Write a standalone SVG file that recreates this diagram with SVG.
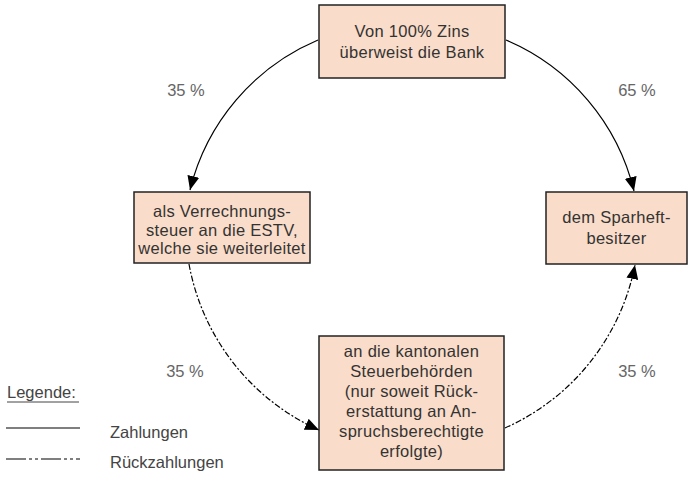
<svg xmlns="http://www.w3.org/2000/svg" width="690" height="478" viewBox="0 0 690 478">
<defs>
<style>
.box{fill:#f9dcc9;stroke:#222;stroke-width:1.5}
.t{font-family:"Liberation Sans",Arial,sans-serif;font-size:16.5px;letter-spacing:0.3px;fill:#333;text-anchor:middle}
.p{font-family:"Liberation Sans",Arial,sans-serif;font-size:16.5px;fill:#666;text-anchor:middle}
.l{font-family:"Liberation Sans",Arial,sans-serif;font-size:16.5px;fill:#444}
.solid{fill:none;stroke:#000;stroke-width:1.2}
.dash{fill:none;stroke:#000;stroke-width:1.2;stroke-dasharray:6 2 2 2}
</style>
<marker id="ah" viewBox="0 0 14 12" refX="14" refY="6" markerWidth="14" markerHeight="12" markerUnits="userSpaceOnUse" orient="auto">
<path d="M0,0 L14,6 L0,12 Z" fill="#000"/>
</marker>
</defs>
<rect width="690" height="478" fill="#fff"/>
<g id="connectors">
<path class="solid" d="M318,40 A220,220 0 0 0 190,190" marker-end="url(#ah)"/>
<path class="solid" d="M506,40 A220,220 0 0 1 634,191" marker-end="url(#ah)"/>
<path class="dash" d="M189,264 A226,226 0 0 0 319,430" marker-end="url(#ah)"/>
<path class="dash" d="M505,428 A226,226 0 0 0 635,265" marker-end="url(#ah)"/>
</g>
<g id="n-top">
<rect class="box" x="319" y="5" width="186" height="73"/>
<text class="t" x="412" y="37">Von 100% Zins</text>
<text class="t" x="412" y="58">überweist die Bank</text>
</g>
<g id="n-left">
<rect class="box" x="134" y="192" width="176" height="71"/>
<text class="t" x="222" y="217">als Verrechnungs-</text>
<text class="t" x="222" y="235.5">steuer an die ESTV,</text>
<text class="t" x="222" y="254">welche sie weiterleitet</text>
</g>
<g id="n-right">
<rect class="box" x="546" y="192" width="141" height="72"/>
<text class="t" x="616.5" y="223">dem Sparheft-</text>
<text class="t" x="616.5" y="244">besitzer</text>
</g>
<g id="n-bottom">
<rect class="box" x="319" y="336" width="185" height="134"/>
<text class="t" x="411.5" y="357">an die kantonalen</text>
<text class="t" x="411.5" y="377">Steuerbehörden</text>
<text class="t" x="411.5" y="397">(nur soweit Rück-</text>
<text class="t" x="411.5" y="417">erstattung an An-</text>
<text class="t" x="411.5" y="437">spruchsberechtigte</text>
<text class="t" x="411.5" y="457">erfolgte)</text>
</g>
<g id="labels">
<text class="p" x="186" y="96">35 %</text>
<text class="p" x="637" y="96">65 %</text>
<text class="p" x="185" y="377">35 %</text>
<text class="p" x="637" y="377">35 %</text>
</g>
<g id="legend">
<text class="l" x="7" y="398">Legende:</text>
<line x1="7" y1="402" x2="79" y2="402" stroke="#444" stroke-width="1"/>
<line x1="6" y1="428" x2="80" y2="428" stroke="#000" stroke-width="1.2"/>
<text class="l" x="110" y="438">Zahlungen</text>
<line x1="6" y1="459" x2="80" y2="459" stroke="#000" stroke-width="1.2" stroke-dasharray="20 3 3 3 3 3"/>
<text class="l" x="110" y="468">Rückzahlungen</text>
</g>
</svg>
